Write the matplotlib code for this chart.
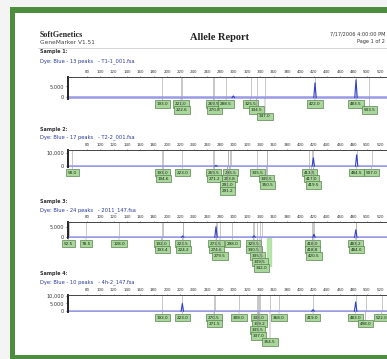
import matplotlib.pyplot as plt
from matplotlib.patches import Rectangle

W, H = 387, 359

# report header
company = 'SoftGenetics'
software = 'GeneMarker V1.51'
title = 'Allele Report'
stamp = '7/17/2006 4:00:00 PM'
page = 'Page 1 of 2'

# one entry per sample panel
sample_names = ['Sample 1:', 'Sample 2:', 'Sample 3:', 'Sample 4:']
dye_info = ['Dye: Blue - 13 peaks   - T1-1_001.fsa',
            'Dye: Blue - 17 peaks   - T2-2_001.fsa',
            'Dye: Blue - 24 peaks   - 2011_147.fsa',
            'Dye: Blue - 10 peaks   - 4h-2_147.fsa']
y_max = [9300, 12000, 7300, 10500]
y_ticks = [[0, 5000], [0, 10000], [0, 5000], [0, 5000, 10000]]
size_ticks = list(range(80, 540, 20))

# detected peaks (size in bp, height in RFU)
peak_bp = [[299.5, 422.0, 483.5],
           [273.5, 419.5, 484.5],
           [223.5, 273.5, 330.5, 420.5, 483.2],
           [223.0, 419.0, 483.0]]
peak_rfu = [[700, 6700, 8000],
            [600, 6200, 8500],
            [600, 5100, 700, 1400, 3600],
            [5000, 1000, 6000]]

# allele calls and the row of the label stack they sit in
allele_bp = [
    [193.0, 221.0, 222.6, 269.5, 270.8, 288.5, 325.5, 334.5, 347.0, 422.0, 483.5, 503.5],
    [58.0, 193.0, 194.6, 223.0, 269.5, 271.2, 295.5, 293.8, 291.0, 291.2,
     335.5, 349.5, 350.5, 413.5, 417.0, 419.5, 484.5, 507.0],
    [52.5, 78.5, 128.0, 192.0, 193.4, 223.5, 224.2, 273.5, 274.6, 279.5, 298.0,
     329.5, 330.5, 335.5, 339.5, 342.0, 418.0, 418.8, 420.5, 483.2, 484.0],
    [193.0, 223.0, 270.5, 271.5, 308.0, 338.0, 339.2, 335.5, 337.0, 354.5,
     368.0, 419.0, 483.0, 498.0, 522.0],
]
allele_row = [
    [0, 0, 1, 0, 1, 0, 0, 1, 2, 0, 0, 1],
    [0, 0, 1, 0, 0, 1, 0, 1, 2, 3, 0, 1, 2, 0, 1, 2, 0, 0],
    [0, 0, 0, 0, 1, 0, 1, 0, 1, 2, 0, 0, 1, 2, 3, 4, 0, 1, 2, 0, 1],
    [0, 0, 0, 1, 0, 0, 1, 2, 3, 4, 0, 0, 0, 1, 0],
]

# panel geometry in pixels: header rows and plot box top/bottom
name_y = [52, 129, 201, 274]
dye_y = [61, 137, 210, 282]
box_top = [77, 150, 222, 295]
box_base = [98.5, 167, 238, 312]

green = '#4e8c3e'
trace = '#3040c8'
base_col = '#9a9ae6'


def fx(px):
    return px / W


def fy(py):
    return 1 - py / H


fig = plt.figure(figsize=(W / 100, H / 100), dpi=100)
fig.patch.set_facecolor('#f4f4f4')

# white page with green frame, kept under the plot boxes
fig.add_artist(Rectangle((fx(10), fy(359)), fx(400), fy(7) - fy(359),
                         transform=fig.transFigure, fc=green, ec='none',
                         zorder=-20))
fig.add_artist(Rectangle((fx(15.5), fy(355)), fx(400), fy(13) - fy(355),
                         transform=fig.transFigure, fc='white', ec='none',
                         zorder=-10))

fig.text(fx(40), fy(35), company, fontsize=5.8, weight='bold',
         family='Liberation Serif', va='center', color='#222')
fig.text(fx(40), fy(42.5), software, fontsize=4.2, va='center', color='#444')
fig.text(fx(219), fy(37), title, fontsize=7.5, weight='bold',
         family='Liberation Serif', ha='center', va='center', color='#222')
fig.text(fx(385), fy(34), stamp, fontsize=3.6, ha='right', va='center',
         color='#333')
fig.text(fx(385), fy(42), page, fontsize=3.6, ha='right', va='center',
         color='#333')
fig.add_artist(plt.Line2D([fx(38), fx(400)], [fy(48), fy(48)],
                          transform=fig.transFigure, color='#cfcfcf', lw=0.6))

for i in range(4):
    fig.text(fx(40), fy(name_y[i]), sample_names[i], fontsize=3.5,
             weight='bold', va='center', color='#333')
    fig.text(fx(40), fy(dye_y[i]), dye_info[i], fontsize=3.7,
             va='center', color='#2a3a9a')

    ax = fig.add_axes([fx(68), fy(box_base[i]), fx(400 - 68),
                       fy(box_top[i]) - fy(box_base[i])])
    ax.set_facecolor('white')
    ax.set_xlim(51.5, 549.5)
    ax.set_ylim(-0.05 * y_max[i], y_max[i])

    for s in ['right', 'bottom']:
        ax.spines[s].set_visible(False)
    ax.spines['left'].set_color('#222')
    ax.spines['left'].set_linewidth(1.4)
    ax.spines['top'].set_color('#444')
    ax.spines['top'].set_linewidth(0.7)

    ax.xaxis.tick_top()
    ax.set_xticks(size_ticks)
    ax.set_xticklabels([str(t) for t in size_ticks])
    ax.tick_params(axis='x', labelsize=2.9, length=1.0, width=0.4, pad=1.2,
                   colors='#333')
    ax.set_yticks(y_ticks[i])
    ax.set_yticklabels([f'{t:,}' for t in y_ticks[i]])
    ax.tick_params(axis='y', labelsize=3.6, length=1.5, width=0.5, pad=1.5,
                   colors='#333')

    # bin markers
    for bp in allele_bp[i]:
        ax.axvline(bp, color='#a8a8a8', lw=0.45, zorder=1)

    # baseline and peaks
    ax.axhline(0, color=base_col, lw=1.8, zorder=2)
    for bp, h in zip(peak_bp[i], peak_rfu[i]):
        ax.plot([bp - 1.8, bp, bp + 1.8], [0, h, 0], color=trace, lw=0.8,
                zorder=3)

    # allele labels stacked below the baseline
    for bp, row in zip(allele_bp[i], allele_row[i]):
        ax.annotate(f'{bp:.1f}', xy=(bp, 0), xycoords=('data', 'axes fraction'),
                    xytext=(0, -(4.0 + row * 4.4)), textcoords='offset points',
                    ha='center', va='center', fontsize=3.0, color='#14240f',
                    bbox=dict(boxstyle='square,pad=0.42', fc='#a9d69b',
                              ec='#4a7a42', lw=0.45),
                    arrowprops=dict(arrowstyle='-', color='#999999', lw=0.45,
                                    shrinkA=0, shrinkB=0),
                    annotation_clip=False, zorder=4)

    if i == 2:
        ax.axvspan(349.5, 355.5, ymin=-1.75, ymax=0, color='#a8e09a',
                   alpha=0.8, clip_on=False, zorder=0)

fig.savefig('out.png', dpi=100)
